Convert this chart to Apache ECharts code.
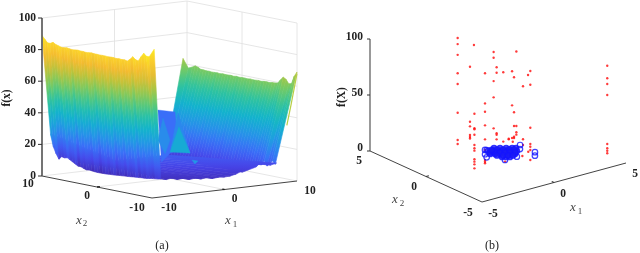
<!DOCTYPE html>
<html><head><meta charset="utf-8">
<style>html,body{margin:0;padding:0;background:#fff}#c{width:640px;height:253px;filter:blur(0.35px)}</style>
<script src="https://cdn.jsdelivr.net/npm/echarts@6/dist/echarts.min.js"></script>
</head><body><div id="c"></div>
<script>
// ---------- values ----------
const zTicksA = [0,20,40,60,80,100];
const xTicksA = [-10,0,10];
const zTicksB = [0,50,100];
const xTicksB = [-5,0,5];
// surface (a): walls sampled along x2 = 10 ... -10, step 0.5
const leftRidge = [89,87,85,85,86,85,84.5,84,84,84.3,84,83.8,84,84.2,84,84,83.8,84,84.2,84,84,83.9,84,84,83.8,84,84,83.8,84,83.8,84,83.5,85,87,85.5,85,88,90.5,89,89,94];
const leftLow = [25,18,14,11,13,12.5,13,12,11,10,9,9,8.3,7.7,8,7.8,7.6,7.5,7.5,7.6,7.6,7.8,7.9,8,8.2,8.4,8.5,8.7,8.8,9,9.2,9.4,9.5,9.7,9.8,10,10.3,10.6,10.8,11,11.4];
const leftGrain = [1,-1,2,0,-2,1,3,-1,0,2,-3,1,-1,2,0,-2,2,1,-3,0,2,-1,1,3,-2,0,1,-2,2,-1,0,3,-2,1,-1,2,0,-2,1,2,0];
const rightRidge = [64,58,59,60,59.5,58.5,58.5,58.3,58.4,58.2,58.3,58.4,58.2,58.5,58.3,58.4,58.5,58.3,58.6,58.4,58.5,58.6,58.4,58.7,58.5,58.6,58.8,58.6,58.9,59,58.8,59.2,59.3,59.6,62,64,63,60.5,61,66,69];
const rightLow = [3,3,3,3,3,3,3,3,3,3,3,3,3,3,3,3,3,3,3,3,3,3,3,3,3,3,3,3,3,4,5,6,7,8,10,10,13,10,12,14,12];
const rimZ = [11.4,10.6,11.2,9.8,10.2,8.9,9.4,8.4,8.8,7.8,8.2,7.9,8.1,8.9,10.4,11.3,12.1,13.5,13.7,12,12.9];
const rimX1 = [-8.8,-8,-7.2,-6.4,-5.6,-4.8,-4,-3.2,-2.4,-1.6,-0.8,0,0.8,1.6,2.4,3.2,4,4.8,5.6,6.4,7.2];
const floorBackZ = [26,14,12,10,8,6,5,4,4,4,4,4,4,4,4,4,4,4,4,4,4];
// central features of the surface, as x1 / z outlines on the plane x2 = 0, with a colour height
const patchX1 = [[-1.6,0.76,1.17,0.07,-1.1],[-1.59,-0.9,0.07,-0.6],[0.2,1.17,2.83],[0.07,2.83,1.3],[3.1,3.93,3.5]];
const patchZ  = [[44.2,41.7,17.4,16,11],[25,38.8,24.3,16],[19.2,40.8,14.6],[16.7,14.6,32],[10,9,7.3]];
const patchC  = [19,26,25,35,28];
// scatter (b): red samples, columns of equal x1, x2
const redColX1 = [-1.09,0.31,-2.22,-0.38,-1.33,0,0.13,1.37,1.28,1.47,0.93,4.95,0.6,2.32,1.97,0.98,1.26,0.78,0.37,-0.83,-0.49];
const redColX2 = [2.2,2.9,-0.75,1.66,-0.55,0.39,0.29,0.33,0.39,0.25,-1.69,-3.39,0.3,0.3,0.3,0.3,0.3,-1.7,-1.7,-1.7,-1.7];
const redColZ = [
 [100,94.6,85,68.5,59,33.3,9,5.4],
 [66.3,17.2,13.1,5.4,3.6,2.2],
 [49.8,36.8,35.9,31,21.9,18.9,16.8,9.1,7,4.6,1],
 [93.8],
 [81.9,55,47.6,35.4,22.9,13.4,4.5,2.9,1.5],
 [92,86.9,66,51.5,23.8],
 [78.3,73.5,19.4,18.1,14],
 [64.9,33.7,21.4,11.9,10.7],
 [70.3,39.9,10.7],
 [88,21.4,15.8,13.7],
 [81.3,69,30.6,16,13.6,10.7,1.8],
 [79.7,68.5,63.4,53.6,9.8,6,3.8,1.5],
 [72.2,10.3],[63.8],[54.9,7.6,2.5],[11.6,11],[7.9],[9.7],[7.4],[6.5],[15.7]];
// blue best samples: the dense cloud, then the outlying ones
const blueX1 = [0.58,0.84,1.11,1.37,1.54,0.03,0.21,0.42,0.64,0.86,1.08,1.29,-0.16,0.06,0.27,0.49,0.71,0.93,0.07,0.25,0.42,0.57,0.83,1.10,1.31,-0.02,0.2,0.41,0.63,0.85,1.07,-0.01,0.25,0.47,0.69,0.29];
const blueX2 = [1.1,0.9,0.7,0.5,0.37,0.94,0.81,0.64,0.47,0.31,0.14,-0.03,0.5,0.34,0.17,0,-0.16,-0.33,-0.27,-0.4,-0.53,0.82,0.62,0.42,0.25,0.68,0.52,0.35,0.18,0.02,-0.15,0.08,-0.12,-0.29,-0.45,0.94];
const outlierX1 = [0,-0.41,-0.63,2,1.61,0.74,1.96,1.63,-0.09,0.07];
const outlierX2 = [1.16,0.63,0.2,0.6,0.11,-0.73,-0.78,-1.2,-0.74,1.1];
const blueZ = 1;

// ---------- projections of the two 3-D boxes ----------
const pa = (x1,x2,z)=>[152+(x1+10)*7.25-(x2+10)*5.5, 198-(x1+10)*0.85-(x2+10)*1.1-z*1.58];
const pb = (x1,x2,z)=>[482+(x1+5)*14.4-(x2+5)*11.2, 202-(x1+5)*3.9-(x2+5)*5.1-z*1.12];

const PAR = ['#3e26a8','#4743e8','#3a6ef8','#2397e6','#12b3cc','#2cc2a2','#6ccb6a','#b7c43c','#f4ba30','#fcd62a','#f9fb15'];
function rgb(h){return [1,3,5].map(i=>parseInt(h.substr(i,2),16));}
function parula(t){t=Math.max(0,Math.min(1,t))*(PAR.length-1);const i=Math.min(PAR.length-2,Math.floor(t)),f=t-i,a=rgb(PAR[i]),b=rgb(PAR[i+1]);
  return 'rgb('+a.map((v,k)=>Math.round(v+(b[k]-v)*f)).join(',')+')';}
const ZMAX=95;
function grad(y0,y1,z0,z1,off){const s=[];for(let k=0;k<=10;k++){s.push({offset:k/10,color:parula((z0+(z1-z0)*k/10+off)/ZMAX)});}
  return {type:'linear',x:0,y:y0,x2:0,y2:y1,global:true,colorStops:s};}
function cs(n,fn){const d=[];for(let i=0;i<n;i++)d.push([i,i]);
  return {type:'custom',coordinateSystem:'cartesian2d',data:d,silent:true,clip:false,animation:false,renderItem:(p,api)=>fn(p.dataIndex,api)};}
function poly(pts,api,fill,stroke,lw){return {type:'polygon',shape:{points:pts.map(q=>api.coord(q))},style:{fill:fill,stroke:stroke||fill,lineWidth:lw==null?0.6:lw}};}
function line(pts,api,color,lw){return {type:'polyline',shape:{points:pts.map(q=>api.coord(q))},style:{fill:'none',stroke:color,lineWidth:lw}};}
function txt(s,q,api,font,align,color,rot){const c=api.coord(q);return {type:'text',x:c[0],y:c[1],rotation:rot||0,style:{text:s,font:font,fill:color||'#222',textAlign:align||'center',textVerticalAlign:'middle'}};}

// ---------- grid lines and axes ----------
const gridA=[],axisDark=[];
zTicksA.slice(1).forEach(z=>{gridA.push([pa(-10,10,z),pa(10,10,z),pa(10,-10,z)]);});
gridA.push([pa(-10,10,0),pa(-10,10,100)],[pa(10,10,0),pa(10,10,100)],[pa(10,-10,0),pa(10,-10,100)]);
gridA.push([pa(0,10,0),pa(0,10,100)],[pa(10,0,0),pa(10,0,100)]);
gridA.push([pa(-10,0,0),pa(10,0,0)],[pa(0,-10,0),pa(0,10,0)],[pa(-10,10,0),pa(10,10,0),pa(10,-10,0)]);
axisDark.push({p:[pa(-10,10,0),pa(-10,-10,0),pa(10,-10,0)],w:1,c:'#444'});
axisDark.push({p:[pa(-10,10,0),pa(-10,10,100)],w:1.8,c:'#666'});
zTicksA.forEach(z=>{const q=pa(-10,10,z);axisDark.push({p:[q,[q[0]-4,q[1]]],w:1,c:'#333'});});
axisDark.push({p:[pa(-10,0,0),pa(-9.6,0,0)],w:1.3,c:'#222'},{p:[pa(0,-10,0),pa(0,-9.6,0)],w:1.3,c:'#222'});
axisDark.push({p:[pb(-5,5,0),pb(-5,-5,0),pb(5,-5,0)],w:1,c:'#444'});
axisDark.push({p:[pb(-5,5,0),pb(-5,5,100)],w:1.2,c:'#555'});
zTicksB.forEach(z=>{const q=pb(-5,5,z);axisDark.push({p:[q,[q[0]-3,q[1]]],w:1,c:'#333'});});
axisDark.push({p:[pb(-5,0,0),pb(-4.8,0,0)],w:1.2,c:'#333'},{p:[pb(0,-5,0),pb(0,-4.8,0)],w:1.2,c:'#333'});

// ---------- labels ----------
const B='bold 11.5px "Liberation Serif"', R='12px "Liberation Serif"', I='italic 13px "Liberation Serif"', S='9px "Liberation Serif"';
const labels=[];
zTicksA.forEach(z=>{const q=pa(-10,10,z);labels.push([String(z),[q[0]-6,q[1]],B,'right']);});
const offA2=[[-15,10],[-10,9],[-14,8]],offA1=[[17,10],[10,9.5],[13,10]];
xTicksA.forEach((v,i)=>{let q=pa(-10,v,0);labels.push([String(v),[q[0]+offA2[i][0],q[1]+offA2[i][1]],B]);q=pa(v,-10,0);labels.push([String(v),[q[0]+offA1[i][0],q[1]+offA1[i][1]],B]);});
const offZB=[-3,-2,-2];
zTicksB.forEach((z,i)=>{const q=pb(-5,5,z);labels.push([String(z),[q[0]-7,q[1]+offZB[i]],B,'right']);});
const offB2=[[-14,11],[-12,10.5],[-11,10]],offB1=[[11,12],[9,11.5],[9,11]];
xTicksB.forEach((v,i)=>{let q=pb(-5,v,0);labels.push([String(v),[q[0]+offB2[i][0],q[1]+offB2[i][1]],B]);q=pb(v,-5,0);labels.push([String(v),[q[0]+offB1[i][0],q[1]+offB1[i][1]],B]);});
labels.push(['x',[79,220.5],I,'center','#444'],['2',[85,224],S,'center','#444'],['x',[228,221],I,'center','#444'],['1',[235,224.5],S,'center','#444']);
labels.push(['x',[395,200],I,'center','#444'],['2',[402,203.5],S,'center','#444'],['x',[573,208],I,'center','#444'],['1',[580,211.5],S,'center','#444']);
labels.push(['(a)',[162,246],R],['(b)',[492,246],R]);
labels.push(['f(x)',[7,98],B,'center','#222',Math.PI/2],['f(X)',[342,97],B,'center','#222',Math.PI/2]);

// ---------- build ----------
const N=leftRidge.length;
const x2at=i=>10-i*0.5;
const series=[];
series.push(cs(gridA.length,(i,api)=>line(gridA[i],api,'#dfdfdf',0.8)));
// right wall
series.push(cs(N-1,(i,api)=>{const x2a=x2at(i),x2b=x2at(i+1);
  const t1=i===0?9.45:(i===1?9.8:10),t2=i===0?9.8:10;
  const A=pa(t1,x2a,rightRidge[i]),Bb=pa(t2,x2b,rightRidge[i+1]),C=pa(7,x2b,rightLow[i+1]),D=pa(7,x2a,rightLow[i]);
  const g=grad(Math.min(A[1],Bb[1]),Math.max(C[1],D[1]),rightRidge[i],rightLow[i]+3,leftGrain[i]*0.2);
  return poly([A,Bb,C,D],api,g);}));
// floor
series.push(cs(rimX1.length-1,(i,api)=>{const a=rimX1[i],b=rimX1[i+1];
  const P1=pa(a,-10,rimZ[i]),P2=pa(b,-10,rimZ[i+1]),P3=pa(b,10,floorBackZ[i+1]),P4=pa(a,10,floorBackZ[i]);
  const g=grad(182,135,2,25,0);
  return poly([P1,P2,P3,P4],api,g);}));
// central features
series.push(cs(patchX1.length,(i,api)=>{const pts=patchX1[i].map((x,k)=>pa(x,0,patchZ[i][k]));return poly(pts,api,parula(patchC[i]/ZMAX),null,0.4);}));
// right-edge sliver
series.push(cs(1,(i,api)=>line([pa(10,-10,68),pa(9.17,-10,48.5),pa(8.6,-10,36)],api,'#b8cf45',1.2)));
// left wall
series.push(cs(N-1,(i,api)=>{const x2a=x2at(i),x2b=x2at(i+1);
  const t2=i===N-2?-9.7:-10;
  const A=pa(-10,x2a,leftRidge[i]),Bb=pa(t2,x2b,leftRidge[i+1]),C=pa(-8.8,x2b,leftLow[i+1]),D=pa(-8.8,x2a,leftLow[i]);
  const g=grad(Math.min(A[1],Bb[1]),Math.max(C[1],D[1]),leftRidge[i],leftLow[i]-5,leftGrain[i]*0.6);
  return poly([A,Bb,C,D],api,g);}));
// axes
series.push(cs(axisDark.length,(i,api)=>line(axisDark[i].p,api,axisDark[i].c,axisDark[i].w)));
// scatter
const red=[];redColZ.forEach((zs,c)=>zs.forEach(z=>red.push(pb(redColX1[c],redColX2[c],z))));
series.push({type:'scatter',data:red,symbolSize:2.4,itemStyle:{color:'#ff0a0a'},silent:true,animation:false});
series.push({type:'scatter',data:outlierX1.map((x,i)=>pb(x,outlierX2[i],blueZ)),symbolSize:5.5,itemStyle:{color:'rgba(255,255,255,0)',borderColor:'#1414ff',borderWidth:1.2},silent:true,animation:false});
series.push({type:'scatter',data:blueX1.map((x,i)=>pb(x,blueX2[i],blueZ)),symbolSize:5.5,itemStyle:{color:'#1c1cf5',borderColor:'#1414ff',borderWidth:1.2},silent:true,animation:false});
// text
series.push(cs(labels.length,(i,api)=>{const l=labels[i];return txt(l[0],l[1],api,l[2],l[3],l[4],l[5]);}));

const chart=echarts.init(document.getElementById('c'),null,{renderer:'canvas'});
chart.setOption({animation:false,backgroundColor:'#fff',
  grid:{left:0,right:0,top:0,bottom:0},
  xAxis:{type:'value',min:0,max:640,show:false},
  yAxis:{type:'value',min:0,max:253,inverse:true,show:false},
  series:series});
</script></body></html>
